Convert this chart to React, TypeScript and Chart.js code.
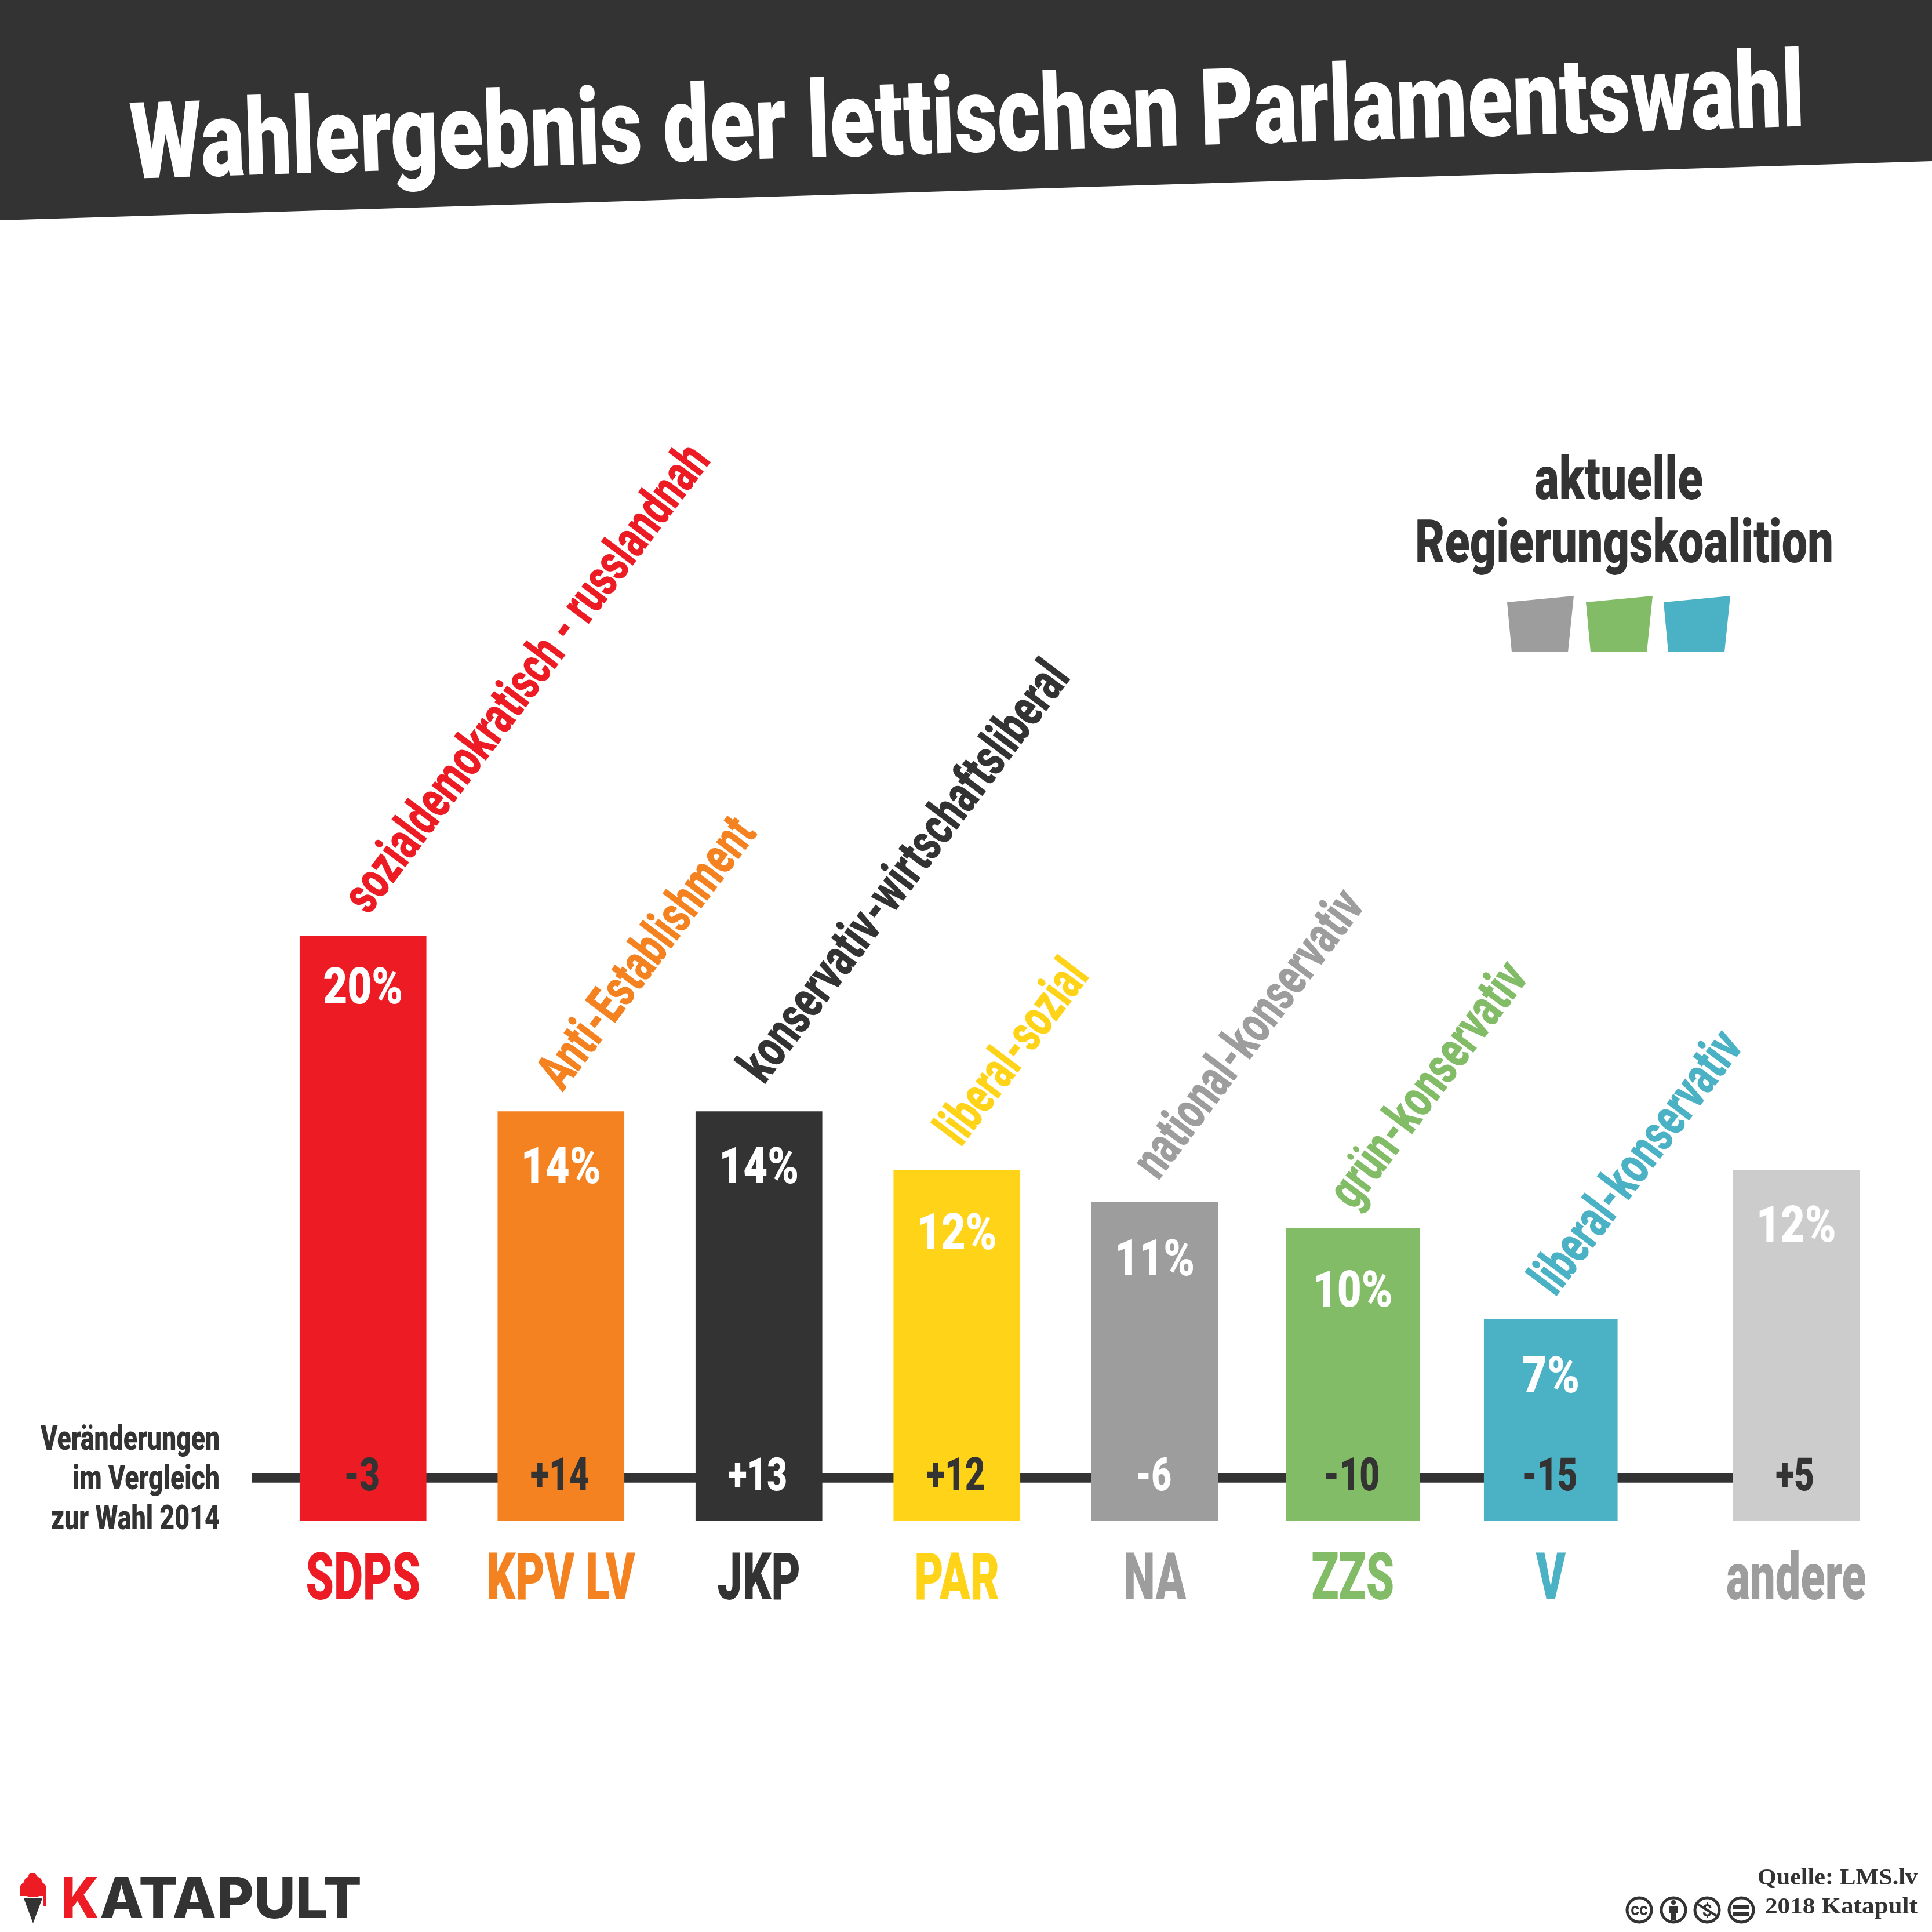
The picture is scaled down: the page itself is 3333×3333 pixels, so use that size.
import React, { useEffect, useRef } from 'react';
import Chart from 'chart.js/auto';

const parties = ['SDPS', 'KPV LV', 'JKP', 'PAR', 'NA', 'ZZS', 'V', 'andere'];
const shares = [20, 14, 14, 12, 10.9, 10, 6.9, 12];
const changes = [-3, 14, 13, 12, -6, -10, -15, 5];
const leanings = [
  'sozialdemokratisch - russlandnah',
  'Anti-Establishment',
  'konservativ-wirtschaftsliberal',
  'liberal-sozial',
  'national-konservativ',
  'grün-konservativ',
  'liberal-konservativ',
  '',
];
const coalition = ['NA', 'ZZS', 'V'];

const colors = ['#ed1c24', '#f58220', '#333333', '#ffd317', '#9d9d9d', '#82bc66', '#4bb1c5', '#cccccc'];
const nameColors = [...colors.slice(0, 7), '#9d9d9d'];
const changeColors = ['#333333', '#333333', '#ffffff', '#333333', '#ffffff', '#333333', '#333333', '#333333'];

const DARK = '#333333';
const NARROW = 'Roboto, sans-serif';
const SQUEEZE = 0.68;

// the last column sits a bit further away in the original
const slot = (i: number) => (i === 7 ? 7.24 : i);
const wide = ['ZZS', 'V'];

// tweaks for the text that hangs off each bar
const shareDrop = [116, 123, 123, 136, 126, 135, 126, 123];
const leanDx = [10, 3, 9, 7, 6, 2, 8, 0];
const leanDy = [35, 33, 45, 38, 36, 30, 37, 0];
const leanLen = [983, 559, 881, 371, 595, 504, 542, 0];

type TextOpts = {
  size: number;
  color?: string;
  fit?: number;
  sx?: number;
  rot?: number;
  align?: CanvasTextAlign;
  font?: string;
  weight?: string;
};

function txt(ctx: CanvasRenderingContext2D, s: string, x: number, y: number, o: TextOpts) {
  ctx.save();
  ctx.font = `${o.weight || '900'} ${o.size}px ${o.font || NARROW}`;
  ctx.fillStyle = o.color || DARK;
  ctx.textAlign = o.align || 'left';
  ctx.textBaseline = 'alphabetic';
  ctx.translate(x, y);
  if (o.rot) ctx.rotate((o.rot * Math.PI) / 180);
  const sx = o.fit ? o.fit / ctx.measureText(s).width : o.sx || 1;
  ctx.scale(sx, 1);
  ctx.fillText(s, 0, 0);
  ctx.restore();
}

function poly(ctx: CanvasRenderingContext2D, pts: number[][], color: string) {
  ctx.fillStyle = color;
  ctx.beginPath();
  pts.forEach((p, i) => (i ? ctx.lineTo(p[0], p[1]) : ctx.moveTo(p[0], p[1])));
  ctx.closePath();
  ctx.fill();
}

function ring(ctx: CanvasRenderingContext2D, x: number, y: number) {
  ctx.strokeStyle = DARK;
  ctx.lineWidth = 5;
  ctx.beginPath();
  ctx.arc(x, y, 21, 0, Math.PI * 2);
  ctx.stroke();
}

function ccIcons(ctx: CanvasRenderingContext2D) {
  const y = 3295;
  [2828, 2887, 2945, 3004].forEach((x) => ring(ctx, x, y));
  txt(ctx, 'cc', 2828, y + 9, { size: 30, align: 'center', weight: 'bold', sx: 0.95 });
  // person
  ctx.fillStyle = DARK;
  ctx.beginPath();
  ctx.arc(2887, y - 13, 4, 0, Math.PI * 2);
  ctx.fill();
  ctx.fillRect(2880, y - 7, 14, 13);
  ctx.fillRect(2883, y + 4, 8, 13);
  // no dollar
  txt(ctx, '$', 2945, y + 11, { size: 30, align: 'center', weight: 'bold' });
  ctx.lineWidth = 4;
  ctx.strokeStyle = DARK;
  ctx.beginPath();
  ctx.moveTo(2927, y - 11);
  ctx.lineTo(2963, y + 11);
  ctx.stroke();
  // equal
  ctx.fillRect(2990, y - 9, 28, 7);
  ctx.fillRect(2990, y + 3, 28, 7);
}

function logo(ctx: CanvasRenderingContext2D) {
  poly(ctx, [[41, 3275], [73, 3275], [57, 3318]], DARK);
  ctx.fillStyle = '#ed1c24';
  const blobs = [[57, 3258, 23, 15], [57, 3245, 15, 9], [56, 3236, 7, 5]];
  blobs.forEach((b) => {
    ctx.beginPath();
    ctx.ellipse(b[0], b[1], b[2], b[3], 0, 0, Math.PI * 2);
    ctx.fill();
  });
  ctx.fillRect(34, 3258, 46, 13);
  ctx.fillRect(74, 3262, 6, 26);
  txt(ctx, 'K', 105, 3309, { size: 98, color: '#ed1c24', fit: 66, font: 'Inter', weight: '800' });
  txt(ctx, 'ATAPULT', 172, 3309, { size: 98, fit: 452, font: 'Inter', weight: '800' });
}

const artwork = {
  id: 'artwork',
  beforeDraw(chart: any) {
    const { ctx } = chart;
    ctx.save();
    ctx.fillStyle = '#ffffff';
    ctx.fillRect(0, 0, 3333, 3333);
    ctx.restore();
    // the axis draws its labels next; squeeze them since no condensed face is installed
    const fill = ctx.fillText;
    ctx.fillText = (s: string, px: number, py: number) => {
      ctx.save();
      ctx.scale(SQUEEZE, 1);
      fill.call(ctx, s, px / SQUEEZE, py);
      ctx.restore();
    };
  },
  beforeDatasetsDraw(chart: any) {
    delete chart.ctx.fillText;
  },
  afterDraw(chart: any) {
    const { ctx, scales } = chart;
    const { x, y } = scales;
    ctx.save();

    poly(ctx, [[0, 0], [3333, 0], [3333, 278], [0, 380]], DARK);
    txt(ctx, 'Wahlergebnis der lettischen Parlamentswahl', 226, 308, {
      size: 184, color: '#ffffff', fit: 2890, rot: -1.8,
    });

    parties.forEach((p, i) => {
      const cx = x.getPixelForValue(slot(i));
      const top = y.getPixelForValue(shares[i]);
      txt(ctx, `${Math.round(shares[i])}%`, cx, top + shareDrop[i], {
        size: 87, color: '#ffffff', align: 'center', fit: i === 6 ? 100 : 138,
      });
      const c = changes[i];
      txt(ctx, (c > 0 ? '+' : '') + c, cx - 2, 2571, {
        size: 80, color: changeColors[i], align: 'center', sx: 0.75,
      });
      if (leanings[i]) {
        txt(ctx, leanings[i], cx + leanDx[i], top - leanDy[i], {
          size: 92, color: colors[i], fit: leanLen[i], rot: -53,
        });
      }
    });

    txt(ctx, 'Veränderungen', 379, 2501, { size: 59, align: 'right', fit: 309 });
    txt(ctx, 'im Vergleich', 379, 2569, { size: 59, align: 'right', fit: 254 });
    txt(ctx, 'zur Wahl 2014', 379, 2638, { size: 59, align: 'right', fit: 291 });

    txt(ctx, 'aktuelle', 2647, 861, { size: 104, fit: 291 });
    txt(ctx, 'Regierungskoalition', 2441, 970, { size: 104, fit: 722 });
    const swatchColors = coalition.map((n) => colors[parties.indexOf(n)]);
    [2600, 2736, 2870].forEach((sx, i) => {
      poly(ctx, [[sx, 1039], [sx + 115, 1028], [sx + 105, 1125], [sx + 8, 1125]], swatchColors[i]);
    });

    logo(ctx);
    const serif = '"Liberation Serif", serif';
    txt(ctx, 'Quelle: LMS.lv', 3032, 3251, { size: 41, font: serif, weight: 'bold', fit: 276 });
    txt(ctx, '2018 Katapult', 3045, 3301, { size: 41, font: serif, weight: 'bold', fit: 263 });
    ccIcons(ctx);
    ctx.restore();
  },
};

export default function App() {
  const ref = useRef<HTMLCanvasElement>(null);

  useEffect(() => {
    if (!ref.current) return;
    const bars = parties.map((p, i) => ({
      type: 'bar' as const,
      label: p,
      data: [{ x: slot(i), y: shares[i] }],
      backgroundColor: colors[i],
      barThickness: wide.includes(p) ? 230 : 218,
      grouped: false,
      order: 1,
    }));
    const chart = new Chart(ref.current, {
      data: {
        datasets: [
          ...bars,
          {
            type: 'line' as const,
            label: 'Veränderungen',
            data: [{ x: -0.56, y: 1.47 }, { x: 7.56, y: 1.47 }],
            borderColor: DARK,
            borderWidth: 16,
            pointRadius: 0,
            order: 2,
          },
        ],
      } as any,
      options: {
        animation: false,
        responsive: false,
        devicePixelRatio: 1,
        layout: { padding: { left: 435, right: 125, top: 404, bottom: 509 } },
        plugins: { legend: { display: false }, tooltip: { enabled: false } },
        scales: {
          x: {
            type: 'linear',
            offset: false,
            min: -0.56,
            max: 7.56,
            grid: { display: false },
            border: { display: false },
            afterFit: (s: any) => {
              s.height = 200;
            },
            afterBuildTicks: (s: any) => {
              s.ticks = parties.map((_, i) => ({ value: slot(i) }));
            },
            ticks: {
              autoSkip: false,
              maxRotation: 0,
              padding: 30,
              font: { family: NARROW, size: 114, weight: '900' },
              color: (c: any) => nameColors[c.index],
              callback: (_v: any, i: number) => parties[i],
            },
          },
          y: { display: false, min: 0, max: 44 },
        },
      },
      plugins: [artwork],
    } as any);
    return () => chart.destroy();
  }, []);

  return (
    <div style={{ position: 'absolute', left: 0, top: 0, background: '#fff' }}>
      <canvas ref={ref} width={3333} height={3333} style={{ display: 'block' }} />
    </div>
  );
}
